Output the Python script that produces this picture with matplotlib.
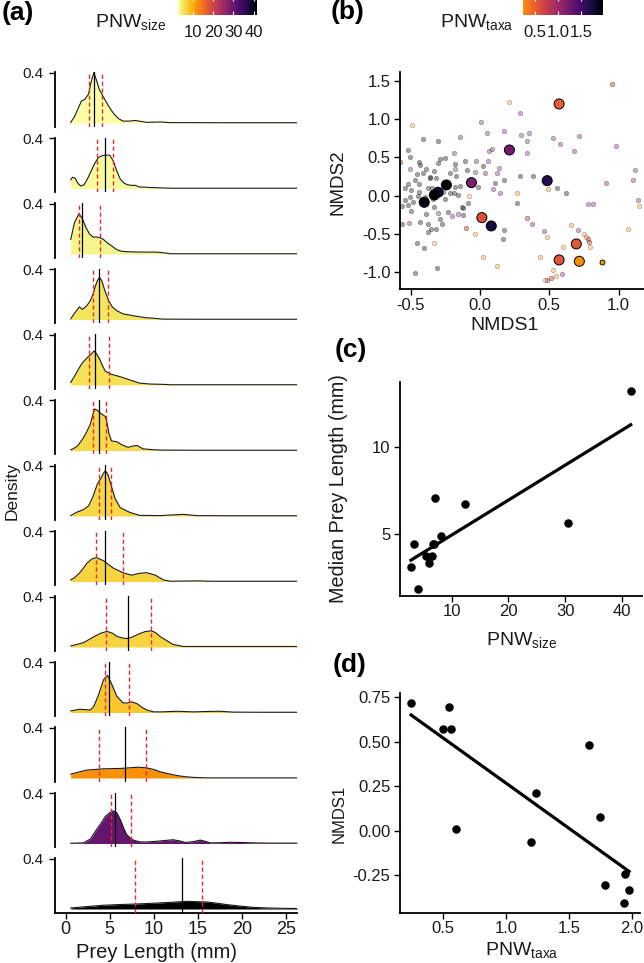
import numpy as np
import matplotlib
matplotlib.use("Agg")
import matplotlib.pyplot as plt
from matplotlib import cm
from matplotlib.colors import Normalize, ListedColormap

plt.rcParams['font.family'] = ['Liberation Sans', 'DejaVu Sans']
plt.rcParams['axes.unicode_minus'] = False
plt.rcParams['mathtext.fontset'] = 'custom'
plt.rcParams['mathtext.rm'] = 'Liberation Sans'
plt.rcParams['mathtext.it'] = 'Liberation Sans:italic'

# ---------------- data: panel (a) / (c) ----------------
pnw_size = [2.85, 3.44, 4.02, 5.49, 6.0, 6.6, 6.65, 6.95, 7.07, 8.13, 12.34, 30.5, 41.5]
median_len = [3.16, 4.43, 1.86, 3.78, 3.35, 3.78, 4.43, 4.43, 7.05, 4.9, 6.71, 5.63, 13.19]
q1_len = [2.6, 3.5, 1.5, 3.1, 2.6, 3.1, 3.75, 3.45, 4.6, 4.5, 3.75, 5.1, 7.9]
q3_len = [4.1, 5.4, 3.9, 4.8, 4.9, 4.6, 5.2, 6.5, 9.7, 7.2, 9.1, 7.4, 15.45]

dens_x1 = [0.57, 1.0, 1.5, 1.8, 2.2, 2.6, 2.9, 3.2, 3.5, 3.8, 4.1, 4.5, 5.0, 5.5, 6.0, 6.5, 7.2, 7.9, 8.6, 9.2, 10.0, 10.9, 11.8, 14, 18, 22, 26.5]
dens_d1 = [0.005, 0.05, 0.13, 0.175, 0.19, 0.23, 0.33, 0.40, 0.34, 0.27, 0.23, 0.18, 0.12, 0.07, 0.035, 0.015, 0.015, 0.02, 0.012, 0.005, 0.007, 0.008, 0.003, 0.003, 0.002, 0.002, 0.002]
dens_x2 = [0.57, 0.8, 1.1, 1.4, 1.7, 2.1, 2.5, 2.9, 3.3, 3.7, 4.1, 4.5, 5.0, 5.4, 5.8, 6.2, 6.6, 7.0, 7.5, 7.9, 8.4, 9.2, 10.0, 11.0, 12.2, 15, 20, 26.5]
dens_d2 = [0.07, 0.09, 0.08, 0.04, 0.02, 0.03, 0.08, 0.14, 0.2, 0.245, 0.26, 0.265, 0.265, 0.22, 0.14, 0.075, 0.045, 0.03, 0.025, 0.025, 0.012, 0.01, 0.007, 0.004, 0.002, 0.002, 0.002, 0.002]
dens_x3 = [0.57, 1.0, 1.5, 1.9, 2.3, 2.7, 3.1, 3.5, 3.9, 4.3, 4.8, 5.3, 5.8, 6.3, 7.0, 8.0, 9.0, 10.3, 11.1, 11.9, 15, 20, 26.5]
dens_d3 = [0.115, 0.25, 0.32, 0.28, 0.21, 0.16, 0.135, 0.135, 0.13, 0.115, 0.085, 0.06, 0.035, 0.022, 0.018, 0.016, 0.015, 0.015, 0.01, 0.002, 0.002, 0.002, 0.002]
dens_x4 = [0.57, 1.0, 1.55, 1.9, 2.4, 2.8, 3.1, 3.4, 3.6, 3.85, 4.1, 4.4, 4.9, 5.3, 5.8, 6.5, 7.3, 8.0, 9.0, 10.0, 11, 15, 20, 26.5]
dens_d4 = [0.005, 0.05, 0.1, 0.08, 0.11, 0.15, 0.2, 0.27, 0.31, 0.334, 0.31, 0.24, 0.145, 0.1, 0.07, 0.045, 0.035, 0.026, 0.015, 0.01, 0.003, 0.002, 0.002, 0.002]
dens_x5 = [0.57, 1.0, 1.4, 1.7, 2.0, 2.5, 2.9, 3.2, 3.5, 3.9, 4.2, 4.5, 5.2, 6.2, 7.3, 8.4, 9.5, 11.1, 12, 15, 20, 26.5]
dens_d5 = [0.02, 0.07, 0.12, 0.155, 0.185, 0.22, 0.245, 0.27, 0.25, 0.2, 0.15, 0.11, 0.085, 0.066, 0.04, 0.015, 0.008, 0.005, 0.002, 0.002, 0.002, 0.002]
dens_x6 = [0.57, 1.0, 1.4, 2.0, 2.4, 2.8, 3.1, 3.3, 3.6, 3.9, 4.2, 4.5, 4.7, 4.9, 5.2, 5.8, 6.4, 7.1, 7.6, 8.1, 8.8, 10.0, 11, 15, 20, 26.5]
dens_d6 = [0.005, 0.02, 0.04, 0.1, 0.15, 0.21, 0.29, 0.33, 0.32, 0.3, 0.285, 0.27, 0.22, 0.14, 0.076, 0.07, 0.045, 0.025, 0.035, 0.04, 0.013, 0.006, 0.003, 0.002, 0.002, 0.002]
dens_x7 = [0.57, 1.25, 2.0, 2.6, 3.1, 3.6, 4.0, 4.3, 4.5, 4.8, 5.1, 5.6, 6.2, 7.3, 8.4, 10.7, 12.0, 13.4, 14.9, 18, 22, 26.5]
dens_d7 = [0.003, 0.03, 0.05, 0.08, 0.155, 0.255, 0.3, 0.34, 0.36, 0.33, 0.26, 0.14, 0.066, 0.028, 0.005, 0.003, 0.008, 0.013, 0.003, 0.002, 0.002, 0.002]
dens_x8 = [0.57, 1.0, 1.6, 2.0, 2.4, 3.0, 3.5, 4.3, 5.4, 6.5, 7.5, 8.3, 9.2, 10.2, 11.1, 11.9, 13, 15, 16.5, 20, 26.5]
dens_d8 = [0.013, 0.03, 0.07, 0.105, 0.145, 0.18, 0.19, 0.165, 0.107, 0.07, 0.05, 0.064, 0.07, 0.05, 0.013, 0.002, 0.003, 0.005, 0.002, 0.002, 0.002]
dens_x9 = [0.57, 2.0, 3.3, 4.0, 4.7, 5.3, 5.8, 6.4, 7.0, 7.6, 8.3, 9.0, 9.7, 10.2, 10.7, 11.5, 12.2, 13.4, 15, 20, 26.5]
dens_d9 = [0.008, 0.034, 0.085, 0.11, 0.124, 0.11, 0.085, 0.072, 0.067, 0.08, 0.103, 0.122, 0.129, 0.115, 0.085, 0.05, 0.02, 0.004, 0.004, 0.004, 0.004]
dens_x10 = [0.57, 1.6, 2.8, 3.2, 3.5, 3.8, 4.3, 4.75, 5.2, 5.5, 5.8, 6.5, 7.0, 7.5, 8.1, 8.6, 9.2, 10.0, 11, 12.6, 14.5, 16, 17.5, 19, 22, 26.5]
dens_d10 = [0.013, 0.026, 0.02, 0.05, 0.1, 0.155, 0.26, 0.296, 0.23, 0.18, 0.13, 0.077, 0.075, 0.085, 0.07, 0.045, 0.02, 0.005, 0.005, 0.01, 0.005, 0.008, 0.01, 0.003, 0.002, 0.002]
dens_x11 = [0.57, 1.5, 2.4, 4.3, 6.2, 8.3, 9.2, 10.0, 10.7, 11.6, 12.6, 13.5, 14.5, 16, 18, 22, 26.5]
dens_d11 = [0.03, 0.048, 0.063, 0.073, 0.076, 0.086, 0.08, 0.068, 0.05, 0.035, 0.02, 0.011, 0.005, 0.001, 0.001, 0.001, 0.001]
dens_x12 = [0.57, 2.0, 2.8, 3.5, 4.0, 4.5, 5.0, 5.4, 5.8, 6.2, 6.6, 6.9, 7.3, 7.7, 8.4, 9.2, 10.0, 11.0, 12.2, 13.0, 13.6, 14.5, 15.3, 16.0, 16.4, 17.5, 18.7, 20, 21.3, 23, 26.5]
dens_d12 = [0.002, 0.005, 0.035, 0.11, 0.16, 0.215, 0.245, 0.26, 0.245, 0.19, 0.12, 0.074, 0.045, 0.027, 0.013, 0.012, 0.016, 0.022, 0.03, 0.02, 0.008, 0.015, 0.027, 0.015, 0.005, 0.006, 0.01, 0.008, 0.005, 0.003, 0.003]
dens_x13 = [0.57, 2, 4.3, 6, 8.1, 10, 11.9, 13.75, 16, 17, 18.3, 20, 21.3, 23, 25.1, 26.5]
dens_d13 = [0.008, 0.017, 0.03, 0.035, 0.04, 0.046, 0.053, 0.061, 0.056, 0.048, 0.035, 0.022, 0.013, 0.008, 0.005, 0.004]

dens_x_rows = [dens_x1, dens_x2, dens_x3, dens_x4, dens_x5, dens_x6, dens_x7,
               dens_x8, dens_x9, dens_x10, dens_x11, dens_x12, dens_x13]
dens_d_rows = [dens_d1, dens_d2, dens_d3, dens_d4, dens_d5, dens_d6, dens_d7,
               dens_d8, dens_d9, dens_d10, dens_d11, dens_d12, dens_d13]

# ---------------- data: panel (b) / (d) ----------------
site_nmds1 = [0.717, 0.695, 0.571, 0.571, 0.485, 0.212, 0.081, 0.013, -0.062, -0.243, -0.303, -0.33, -0.403]
site_nmds2 = [-0.858, -0.631, 1.199, -0.84, 0.196, 0.597, -0.396, -0.287, 0.17, 0.14, 0.044, 0.009, -0.087]
site_taxa = [0.245, 0.545, 0.503, 0.566, 1.658, 1.237, 1.745, 0.605, 1.2, 1.947, 1.787, 1.98, 1.937]

# background (individual sample) points, grouped by colour class of their site
grp_taxa = {'G': 1.95, 'P': 1.2, 'O': 0.245, 'R': 0.55}
ptsG_x = [-0.41, -0.301, -0.517, -0.505, -0.286, -0.253, -0.438, -0.43, -0.387, -0.305, -0.178, -0.11, 0.019,
          -0.097, -0.33, -0.217, -0.171, -0.457, -0.361, -0.32, -0.44, -0.517, -0.542, -0.498, -0.505, -0.542,
          -0.561, -0.522, -0.481, -0.44, -0.373, -0.33, -0.337, -0.33, -0.392, -0.229, -0.121, -0.121, -0.133,
          -0.085, -0.186, -0.157, -0.217, -0.181, -0.145, -0.013, 0.108, 0.171, 0.289, 0.385, 0.27, 0.553, 0.621,
          -0.308, -0.305, -0.469, -0.404, -0.452, -0.376, -0.32, -0.356, -0.373, -0.277, -0.433, -0.566, 0.176,
          0.169, -0.47, -0.41, -0.36, -0.27, -0.25, -0.4, -0.45, -0.35, -0.29, -0.5]
ptsG_y = [0.74, 0.719, 0.597, 0.51, 0.476, 0.489, 0.446, 0.402, 0.35, 0.424, 0.41, 0.458, 0.388,
          0.337, 0.324, 0.292, 0.262, 0.28, 0.228, 0.228, 0.148, 0.148, 0.096, 0.074, -0.022, -0.056,
          -0.13, -0.122, -0.078, 0.052, 0.096, 0.009, -0.047, -0.143, -0.239, -0.209, -0.252, -0.165, -0.143,
          -0.091, 0.03, 0.009, 0.03, 0.117, 0.126, 0.117, 0.169, 0.204, 0.252, 0.26, -0.091, 0.104, 0.03,
          -0.95, -1.25, -1.015, -0.68, -0.614, -0.479, -0.44, -0.44, -0.374, -0.374, -0.348, -0.374, -0.448,
          -0.566, 0.2, 0.3, 0.25, 0.05, -0.05, -0.02, 0.0, 0.1, -0.3, -0.2]
ptsP_x = [0.291, 0.007, -0.145, 0.053, 0.171, 0.296, 0.357, 0.342, 0.524, 0.714, 0.577, 0.678, 0.979, 0.067,
          0.089, 0.342, -0.19, -0.505, -0.028, 0.056, 0.134, 0.122, -0.181, -0.036, 0.036, -0.301, -0.2, -0.157,
          0.096, 0.147, 0.91, 0.777, 0.818, 1.119, 1.107, 1.139, 0.378, 0.465, 0.71, 0.592, 0.486, -0.513]
ptsP_y = [1.077, 0.959, 0.772, 0.824, 0.85, 0.798, 0.815, 0.711, 0.75, 0.785, 0.679, 0.58, 0.65, 0.588,
          0.614, 0.554, 0.554, 0.346, 0.449, 0.454, 0.358, 0.292, 0.35, 0.315, 0.292, -0.222, -0.261, -0.239,
          0.082, 0.03, 0.169, -0.104, -0.104, 0.335, 0.204, -0.056, -0.374, -0.461, -0.448, -1.018, -1.096, -0.357]
ptsO_x = [0.207, -0.489, -0.08, 0.265, 0.493, 1.148, 1.071, 0.482, 0.655, 0.754, 0.766, 0.796, 0.6, 0.43,
          0.527, 0.551, 0.467, 0.125, 0.019, -0.034, -0.334]
ptsO_y = [1.229, 0.924, -0.004, 0.039, 0.087, -0.13, -0.44, -0.544, -0.383, -0.5, -0.535, -0.666, -0.675, -0.8,
          -0.974, -1.044, -1.105, -0.922, -0.8, -0.5, -0.623]
ptsR_x = [0.951, -0.578, 0.342, 0.777, 0.787, 0.51, -0.101]
ptsR_y = [1.46, 0.446, -0.287, -0.57, -0.609, -1.074, -0.426]
extra_x = [0.883]
extra_y = [-0.867]

# ---------------- helpers ----------------
W, H = 644, 963
fig = plt.figure(figsize=(W / 100, H / 100), dpi=100)


def add_ax(left, top, right, bottom):
    return fig.add_axes([left / W, 1 - bottom / H, (right - left) / W, (bottom - top) / H])


TXT = '#1a1a1a'
size_cmap = matplotlib.colormaps['inferno_r']
size_norm = Normalize(min(pnw_size), max(pnw_size))
taxa_cmap = ListedColormap(matplotlib.colormaps['inferno'](np.linspace(0.75, 0.0, 256)))
taxa_norm = Normalize(min(site_taxa), max(site_taxa))

# ---------------- panel (a): ridgelines ----------------
n_rows = len(pnw_size)
ppu = 125.75
for i in range(n_rows):
    base = 123 + 65.5 * i
    ax = add_ax(54.7, base - 0.405 * ppu, 296.7, base + 0.028 * ppu)
    ax.set_xlim(-1.25, 26.25)
    ax.set_ylim(-0.028, 0.405)
    col = size_cmap(size_norm(pnw_size[i]))
    ax.fill_between(dens_x_rows[i], 0, dens_d_rows[i], color=col, lw=0, zorder=1)
    ax.plot(dens_x_rows[i], dens_d_rows[i], color='#1a1a1a', lw=0.8, zorder=2)
    ax.axvline(median_len[i], color='black', lw=0.9, zorder=3)
    for q in (q1_len[i], q3_len[i]):
        ax.axvline(q, color='#e8262b', lw=1.0, ls=(0, (3, 2)), zorder=3)
    for s in ('top', 'right'):
        ax.spines[s].set_visible(False)
    ax.spines['left'].set_linewidth(1.3)
    ax.set_yticks([0.4])
    ax.set_yticklabels(['0.4'])
    ax.tick_params(axis='y', length=4, width=1.0, pad=4, labelsize=11, labelcolor=TXT)
    if i < n_rows - 1:
        ax.spines['bottom'].set_visible(False)
        ax.set_xticks([])
    else:
        ax.spines['bottom'].set_linewidth(1.3)
        ax.set_xticks([0, 5, 10, 15, 20, 25])
        ax.tick_params(axis='x', length=4, width=1.0, pad=2, labelsize=13, labelcolor=TXT)

fig.text(156.5 / W, 1 - 952 / H, 'Prey Length (mm)', ha='center', va='center', fontsize=14.5, color=TXT)
fig.text(12 / W, 1 - 491 / H, 'Density', ha='center', va='center', rotation=90, fontsize=12.5, color=TXT)

# colorbar (a)
cax = add_ax(178, -3, 257, 15)
sm = cm.ScalarMappable(norm=size_norm, cmap=size_cmap)
cb = fig.colorbar(sm, cax=cax, orientation='horizontal')
cb.outline.set_visible(False)
cb.set_ticks([10, 20, 30, 40])
cax.tick_params(axis='x', colors='white', direction='in', length=3, width=0.8, top=True, bottom=True,
                pad=7, labelsize=12, labelcolor=TXT)
fig.text(95 / W, 1 - 27 / H, r'PNW$_{\mathrm{size}}$', ha='left', va='baseline', fontsize=14, color=TXT)

# ---------------- panel (b): NMDS ----------------
axb = add_ax(400, 71.7, 644, 289.3)
axb.set_xlim(-0.578, 1.184)
axb.set_ylim(-1.224, 1.62)
for gx, gy, g, a in ((ptsG_x, ptsG_y, 'G', 0.36), (ptsP_x, ptsP_y, 'P', 0.36),
                     (ptsO_x, ptsO_y, 'O', 0.34), (ptsR_x, ptsR_y, 'R', 0.5)):
    c = taxa_cmap(taxa_norm(grp_taxa[g]))
    axb.scatter(gx, gy, s=11, color=(c[0], c[1], c[2], a), edgecolors=(0, 0, 0, a),
                linewidths=0.4, zorder=2)
axb.scatter(extra_x, extra_y, s=13, color=taxa_cmap(taxa_norm(grp_taxa['O'])), edgecolors='black',
            linewidths=0.6, zorder=3)
axb.scatter(site_nmds1, site_nmds2, s=52, c=site_taxa, cmap=taxa_cmap, norm=taxa_norm,
            edgecolors='black', linewidths=0.7, zorder=4)
axb.set_xticks([-0.5, 0.0, 0.5, 1.0])
axb.set_xticklabels(['-0.5', '0.0', '0.5', '1.0'])
axb.set_yticks([-1.0, -0.5, 0.0, 0.5, 1.0, 1.5])
axb.set_yticklabels(['-1.0', '-0.5', '0.0', '0.5', '1.0', '1.5'])
fig.text(505 / W, 1 - 325 / H, 'NMDS1', ha='center', va='center', fontsize=14, color=TXT)
fig.text(338 / W, 1 - 182 / H, 'NMDS2', ha='center', va='center', rotation=90, fontsize=13.5, color=TXT)

cax2 = add_ax(523, -3, 603, 15)
sm2 = cm.ScalarMappable(norm=taxa_norm, cmap=taxa_cmap)
cb2 = fig.colorbar(sm2, cax=cax2, orientation='horizontal')
cb2.outline.set_visible(False)
cb2.set_ticks([0.5, 1.0, 1.5])
cb2.set_ticklabels(['0.5', '1.0', '1.5'])
cax2.tick_params(axis='x', colors='white', direction='in', length=3, width=0.8, top=True, bottom=True,
                 pad=7, labelsize=12, labelcolor=TXT)
fig.text(440 / W, 1 - 27 / H, r'PNW$_{\mathrm{taxa}}$', ha='left', va='baseline', fontsize=14, color=TXT)

# ---------------- panel (c) ----------------
axc = add_ax(400, 381.7, 641.7, 596)
axc.set_xlim(0.92, 43.43)
axc.set_ylim(1.48, 13.7)
axc.scatter(pnw_size, median_len, s=26, color='black', zorder=3)
k, b0 = np.polyfit(pnw_size, median_len, 1)
xx = np.array([min(pnw_size), max(pnw_size)])
axc.plot(xx, k * xx + b0, color='black', lw=2.3, zorder=2)
axc.set_xticks([10, 20, 30, 40])
axc.set_yticks([5, 10])
fig.text(522 / W, 1 - 645 / H, r'PNW$_{\mathrm{size}}$', ha='center', va='baseline', fontsize=14, color=TXT)
fig.text(338 / W, 1 - 489 / H, 'Median Prey Length (mm)', ha='center', va='center', rotation=90,
         fontsize=14.2, color=TXT)

# ---------------- panel (d) ----------------
axd = add_ax(400, 693.4, 640, 912.7)
axd.set_xlim(0.157, 2.067)
axd.set_ylim(-0.459, 0.773)
axd.scatter(site_taxa, site_nmds1, s=26, color='black', zorder=3)
k2, b2 = np.polyfit(site_taxa, site_nmds1, 1)
xx2 = np.array([min(site_taxa), max(site_taxa)])
axd.plot(xx2, k2 * xx2 + b2, color='black', lw=2.3, zorder=2)
axd.set_xticks([0.5, 1.0, 1.5, 2.0])
axd.set_xticklabels(['0.5', '1.0', '1.5', '2.0'])
axd.set_yticks([-0.25, 0.0, 0.25, 0.5, 0.75])
axd.set_yticklabels(['-0.25', '0.00', '0.25', '0.50', '0.75'])
fig.text(522 / W, 1 - 955 / H, r'PNW$_{\mathrm{taxa}}$', ha='center', va='baseline', fontsize=14, color=TXT)
fig.text(339 / W, 1 - 814 / H, 'NMDS1', ha='center', va='center', rotation=90, fontsize=12, color=TXT)

for ax in (axb, axc, axd):
    for s in ('top', 'right'):
        ax.spines[s].set_visible(False)
    for s in ('left', 'bottom'):
        ax.spines[s].set_linewidth(1.3)
    ax.tick_params(axis='both', length=4, width=1.0, labelsize=12, labelcolor=TXT)
    ax.tick_params(axis='x', pad=2)
    ax.tick_params(axis='y', pad=3)

# panel tags
for txt, x, y in (('(a)', 2, 13), ('(b)', 331, 12), ('(c)', 335, 350), ('(d)', 333, 665)):
    fig.text(x / W, 1 - y / H, txt, ha='left', va='center', fontsize=19, fontweight='bold', color='black')

fig.savefig('out.png', dpi=100)
